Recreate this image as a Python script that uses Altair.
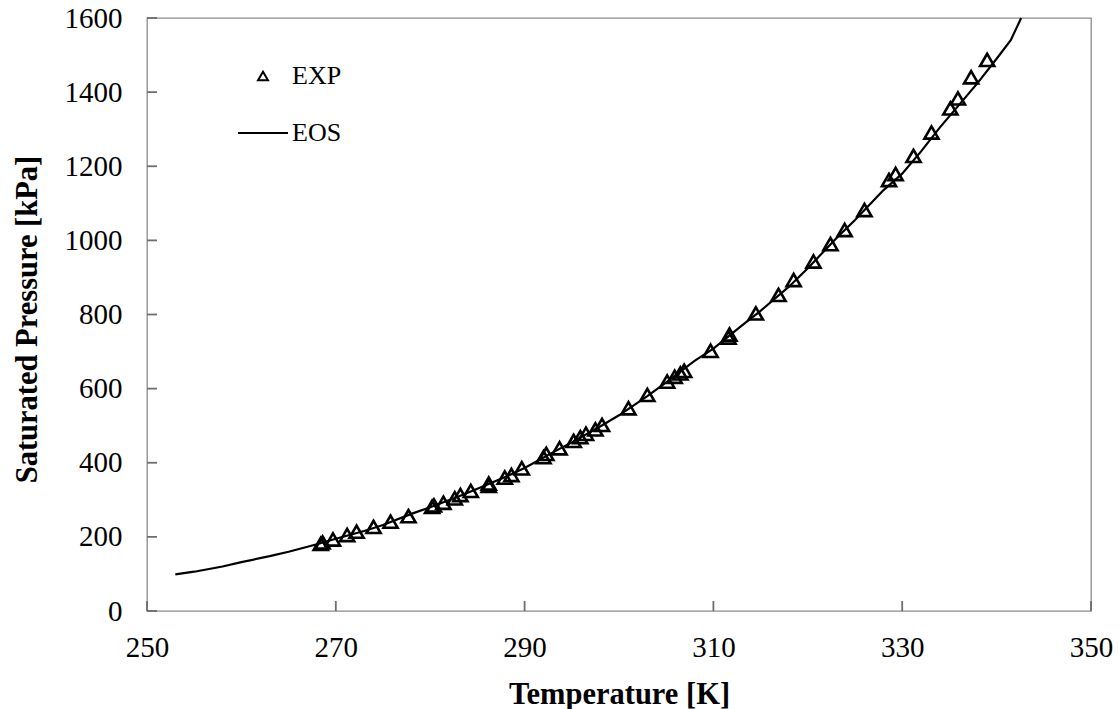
import altair as alt
import pandas as pd

exp_T = [268.4, 268.6, 269.7, 271.2, 272.2, 274.0, 275.8, 277.7, 280.2, 280.4,
         281.4, 282.6, 283.2, 284.3, 286.2, 286.2, 287.9, 288.6, 289.7, 292.0,
         292.3, 293.7, 295.2, 295.9, 296.5, 297.5, 298.2, 301.0, 303.0, 305.1,
         305.9, 306.5, 306.9, 309.7, 311.6, 311.7, 314.5, 316.9, 318.5, 320.6,
         322.4, 323.9, 326.0, 328.6, 329.3, 331.2, 333.1, 335.1, 335.9, 337.3,
         339.0]
exp_P = [181, 185, 193, 205, 214, 227, 241, 256, 281, 285,
         292, 304, 313, 324, 338, 344, 360, 367, 385, 415,
         424, 439, 459, 469, 478, 490, 502, 547, 583, 619,
         632, 641, 648, 702, 738, 746, 803, 853, 893, 943,
         990, 1028, 1082, 1163, 1179, 1228, 1291, 1356, 1383, 1440,
         1487]

# EOS curve
eos_T = [253.0, 255, 258, 260, 263, 265, 268, 270, 273, 275, 278, 280, 283, 285,
         288, 290, 293, 295, 298, 300, 303, 305, 308, 310, 313, 315, 318, 320,
         323, 325, 328, 330, 332, 334, 336, 338, 340, 341.5, 342.6]
eos_P = [99, 106, 120, 132, 148, 160, 180, 195, 216, 232, 262, 280, 309, 330,
         362, 386, 428, 455, 498, 528, 580, 617, 675, 708, 770, 810, 875, 925,
         1005, 1055, 1135, 1180, 1240, 1305, 1365, 1425, 1490, 1540, 1600]

series_names = ["EXP", "EOS"]
x_ticks = [250, 270, 290, 310, 330, 350]
y_ticks = [0, 200, 400, 600, 800, 1000, 1200, 1400, 1600]

exp_df = pd.DataFrame({"T": exp_T, "P": exp_P, "series": "EXP"})
eos_df = pd.DataFrame({"T": eos_T, "P": eos_P, "series": "EOS"})
xt_df = pd.DataFrame({"T": x_ticks})
yt_df = pd.DataFrame({"P": y_ticks})

FONT = "Liberation Serif"
GRAY = "#8c8c8c"
TICK_COLOR = "#6e6e6e"
TICK_LEN = 10
PLOT_W, PLOT_H = 944, 593

x_scale = alt.Scale(domain=[250, 350], nice=False, zero=False)
y_scale = alt.Scale(domain=[0, 1600], nice=False)

x_axis = alt.Axis(values=x_ticks, format="d", ticks=False,
                  labelPadding=22,
                  title="Temperature [K]",
                  titleBaseline="alphabetic", titleY=92)
y_axis = alt.Axis(values=y_ticks, format="d", ticks=False,
                  labelPadding=25,
                  title="Saturated  Pressure [kPa]",
                  titleBaseline="alphabetic", titleX=-111, titleY=301)

X = alt.X("T:Q", scale=x_scale, axis=x_axis)
Y = alt.Y("P:Q", scale=y_scale, axis=y_axis)

# inward tick marks drawn at the axis tick values
xticks = alt.Chart(xt_df).mark_rule(color=TICK_COLOR, strokeWidth=1.8).encode(
    x=X, y=alt.value(PLOT_H - TICK_LEN), y2=alt.value(PLOT_H))
yticks = alt.Chart(yt_df).mark_rule(color=TICK_COLOR, strokeWidth=1.8).encode(
    y=Y, x=alt.value(0), x2=alt.value(TICK_LEN))

line = alt.Chart(eos_df).mark_line(color="black", strokeWidth=2.2).encode(x=X, y=Y)

points = alt.Chart(exp_df).mark_point(filled=False, size=200, strokeWidth=2.6,
                                      color="black", fill="transparent", opacity=1).encode(
    x=X,
    y=Y,
    shape=alt.Shape("series:N",
                    scale=alt.Scale(domain=series_names, range=["triangle-up", "M-5,0H5"]),
                    legend=alt.Legend(orient="none", legendX=103, legendY=45, title=None,
                                      padding=0, labelFont=FONT, labelFontSize=26,
                                      labelColor="black", labelOffset=16, rowPadding=31,
                                      symbolSize=100, symbolStrokeWidth=2,
                                      symbolStrokeColor="black", symbolFillColor="transparent")),
)

chart = alt.layer(xticks, yticks, line, points).properties(
    width=PLOT_W, height=PLOT_H,
    autosize=alt.AutoSizeParams(type="none"),
    padding={"left": 147, "top": 18, "right": 28, "bottom": 98},
    background="white",
).configure_view(
    stroke=GRAY, strokeWidth=1.3
).configure_axis(
    domain=False, grid=False,
    labelFont=FONT, labelFontSize=29, labelColor="black", labelFlush=False,
    titleFont=FONT, titleFontSize=30.5, titleFontWeight="bold", titleColor="black",
)

chart.save("out.html", embed_options={"renderer": "svg", "actions": False})
